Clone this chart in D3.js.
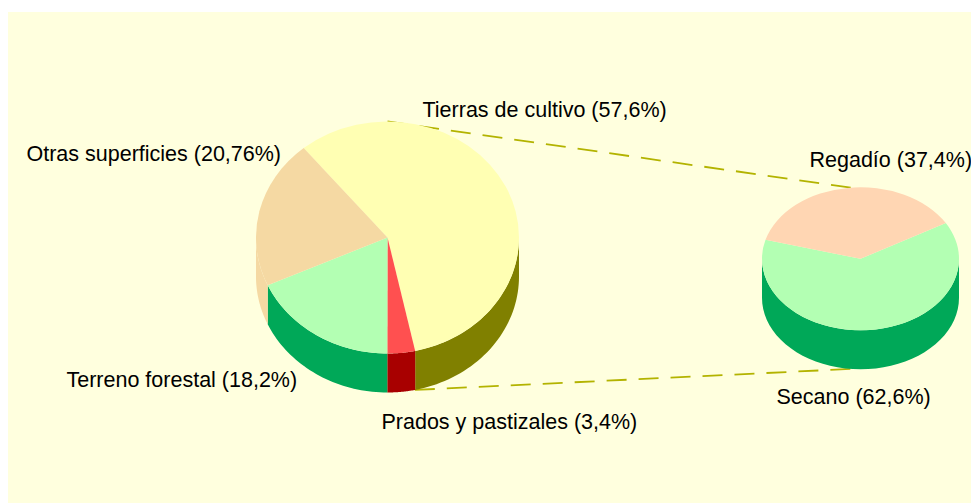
<!DOCTYPE html>
<html lang="es">
<head>
<meta charset="utf-8">
<title>Superficies</title>
<style>
  html, body { margin: 0; padding: 0; background: #fff; }
  svg { display: block; }
  text { font-family: "Liberation Sans", Arial, sans-serif; font-size: 21.5px; fill: #000; }
</style>
</head>
<body>
<div id="chart"></div>
<script src="https://cdn.jsdelivr.net/npm/d3@7"></script>
<script>
// Values
const mainCategories = ['Tierras de cultivo', 'Prados y pastizales', 'Terreno forestal', 'Otras superficies'];
const mainValues = [57.6, 3.4, 18.2, 20.76];
const mainTop = ['#FFFFB3', '#FF5050', '#B3FFB3', '#F5D9A3'];
const mainSide = ['#808000', '#A80000', '#00A858', '#F5D9A3'];

const detailCategories = ['Secano', 'Regadío'];
const detailValues = [62.6, 37.4];
const detailTop = ['#B3FFB3', '#FFD6B3'];
const detailSide = ['#00A858', '#FFD6B3'];

const labelTexts = [
  'Tierras de cultivo (57,6%)', 'Otras superficies (20,76%)', 'Regadío (37,4%)',
  'Terreno forestal (18,2%)', 'Prados y pastizales (3,4%)', 'Secano (62,6%)'
];

(function () {
  const width = 971, height = 503;
  const rad = Math.PI / 180;
  const depth = 39;

  const svg = d3.select('#chart').append('svg')
    .attr('role', 'img')
    .attr('aria-label', 'Pie of pie: superficies')
    .attr('width', width)
    .attr('height', height);

  // panel
  svg.append('rect')
    .attr('x', 8).attr('y', 12)
    .attr('width', width - 8).attr('height', height - 12)
    .attr('fill', '#FFFFDE');

  const linesG = svg.append('g').attr('class', 'connectors');

  function makePie(cx, cy, rx, ry) {
    const x = d3.scaleLinear().domain([-1, 1]).range([cx - rx, cx + rx]);
    const y = d3.scaleLinear().domain([-1, 1]).range([cy - ry, cy + ry]);
    // angle from 12 o'clock, clockwise, in radians
    const at = (a, drop = 0) => [x(Math.sin(a)), y(-Math.cos(a)) + drop];
    return { cx, cy, rx, ry, at };
  }

  function drawPie(p, values, categories, topColors, sideColors, startDeg) {
    const slices = d3.pie().sort(null)
      .startAngle(startDeg * rad)
      .endAngle((startDeg + 360) * rad)(values);

    const g = svg.append('g').attr('class', 'pie');
    const line = d3.line();

    // side wall, only the front half (90..270 deg) is visible
    const walls = [];
    slices.forEach(s => {
      [0, 2 * Math.PI].forEach(turn => {
        const a0 = Math.max(s.startAngle + turn, 90 * rad);
        const a1 = Math.min(s.endAngle + turn, 270 * rad);
        if (a1 > a0) walls.push({ a0, a1, color: sideColors[s.index] });
      });
    });

    g.selectAll('path.wall').data(walls).join('path')
      .attr('class', 'wall')
      .attr('fill', d => d.color)
      .attr('d', d => {
        const steps = d3.range(0, 41).map(i => d.a0 + (d.a1 - d.a0) * i / 40);
        const upper = steps.map(a => p.at(a));
        const lower = steps.slice().reverse().map(a => p.at(a, depth));
        return line(upper.concat(lower)) + 'Z';
      });

    // top face: a circular arc squashed to the ellipse
    const arc = d3.arc().innerRadius(0).outerRadius(p.rx);
    g.append('g')
      .attr('transform', `translate(${p.cx},${p.cy}) scale(1,${p.ry / p.rx})`)
      .selectAll('path').data(slices).join('path')
      .attr('fill', d => topColors[d.index])
      .attr('d', arc)
      .append('title').text(d => categories[d.index]);
  }

  const big = makePie(387.5, 237.5, 131.5, 116);
  const small = makePie(860.5, 258.8, 98.5, 71.5);

  // connectors from the exploded slice to the detail pie
  const joinBig = { top: 0, bottom: 168 };
  const joinSmall = -5.7;
  const connectors = [
    [big.at(joinBig.top * rad), small.at(joinSmall * rad)],
    [big.at(joinBig.bottom * rad, depth), small.at((180 - joinSmall) * rad, depth)]
  ];
  linesG.selectAll('line').data(connectors).join('line')
    .attr('x1', d => d[0][0]).attr('y1', d => d[0][1])
    .attr('x2', d => d[1][0]).attr('y2', d => d[1][1])
    .attr('stroke', '#B3B300')
    .attr('stroke-width', 1.8)
    .attr('stroke-dasharray', '20 12');

  drawPie(big, mainValues, mainCategories, mainTop, mainSide, -39.6);
  drawPie(small, detailValues, detailCategories, detailTop, detailSide, 60);

  const labelX = [422.5, 26.5, 809.5, 66.5, 381.5, 776.5];
  const labelY = [117, 160.5, 166.5, 387, 429, 404];
  svg.append('g').selectAll('text').data(labelTexts).join('text')
    .attr('x', (d, i) => labelX[i])
    .attr('y', (d, i) => labelY[i])
    .text(d => d);
})();
</script>
</body>
</html>
